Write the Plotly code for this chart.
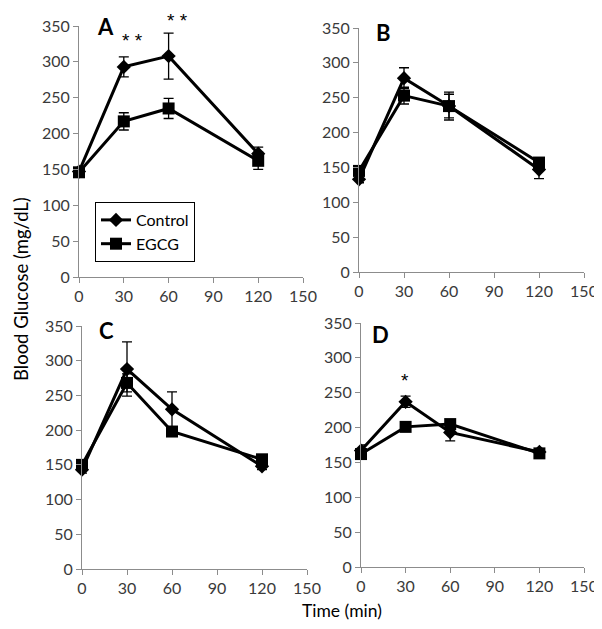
import plotly.graph_objects as go

time = [0, 30, 60, 120]
panels = ["A", "B", "C", "D"]

ctrl_A = [147, 293, 308, 172]
ctrl_A_err = [4, 14, 32, 9]
egcg_A = [146, 217, 235, 162]
egcg_A_err = [4, 12, 14, 12]

ctrl_B = [133, 278, 238, 147]
ctrl_B_err = [5, 15, 20, 13]
egcg_B = [145, 253, 238, 157]
egcg_B_err = [5, 12, 17, 6]

ctrl_C = [143, 288, 230, 148]
ctrl_C_err = [5, 39, 25, 5]
egcg_C = [150, 268, 198, 158]
egcg_C_err = [5, 13, 5, 5]

ctrl_D = [167, 237, 193, 165]
ctrl_D_err = [8, 8, 12, 4]
egcg_D = [162, 201, 205, 163]
egcg_D_err = [4, 4, 4, 4]

x_ticks = [0, 30, 60, 90, 120, 150]
y_ticks = [0, 50, 100, 150, 200, 250, 300, 350]

ctrl = [ctrl_A, ctrl_B, ctrl_C, ctrl_D]
ctrl_err = [ctrl_A_err, ctrl_B_err, ctrl_C_err, ctrl_D_err]
egcg = [egcg_A, egcg_B, egcg_C, egcg_D]
egcg_err = [egcg_A_err, egcg_B_err, egcg_C_err, egcg_D_err]

W, H = 602, 629
OFF = 8  # default page body margin
PW, PH = W - OFF, H - OFF


def px(x):
    return (x - OFF) / PW


def py(y):
    return 1 - (y - OFF) / PH


# pixel domains in the window
xdom = [(79, 303), (359, 584), (82, 307), (361, 584)]
ydom = [(26, 277), (28, 272), (326, 569), (323, 567)]
label_pos = [(18, 349), (16, 344), (16, 343), (13, 333)]

fig = go.Figure()
FONT = "Lato, Open Sans, sans-serif"
tick_font = dict(family=FONT, size=16, color="#3a3a3a")

for i in range(4):
    sfx = "" if i == 0 else str(i + 1)
    xa = "x" + sfx
    ya = "y" + sfx
    fig.add_trace(go.Scatter(
        x=time, y=egcg[i], xaxis=xa, yaxis=ya, name="EGCG",
        mode="lines+markers", cliponaxis=False,
        line=dict(color="black", width=3),
        marker=dict(symbol="square", size=12, color="black"),
        error_y=dict(type="data", array=egcg_err[i], color="black", thickness=1.3, width=5),
        showlegend=(i == 0), legendrank=2,
    ))
    fig.add_trace(go.Scatter(
        x=time, y=ctrl[i], xaxis=xa, yaxis=ya, name="Control",
        mode="lines+markers", cliponaxis=False,
        line=dict(color="black", width=3),
        marker=dict(symbol="diamond", size=11, color="black"),
        error_y=dict(type="data", array=ctrl_err[i], color="black", thickness=1.3, width=5),
        showlegend=(i == 0), legendrank=1,
    ))
    x0, x1 = xdom[i]
    y0, y1 = ydom[i]
    axx = dict(domain=[px(x0), px(x1)], range=[0, 150], tickvals=x_ticks,
               showgrid=False, zeroline=False, showline=True, linecolor="#8c8c8c",
               linewidth=1, ticks="outside", ticklen=5, tickcolor="#8c8c8c",
               tickfont=tick_font, anchor=ya, fixedrange=True, automargin=False)
    axy = dict(domain=[py(y1), py(y0)], range=[0, 350], tickvals=y_ticks,
               showgrid=False, zeroline=False, showline=True, linecolor="#8c8c8c",
               linewidth=1, ticks="outside", ticklen=5, tickcolor="#8c8c8c",
               tickfont=tick_font, anchor=xa, fixedrange=True, automargin=False)
    fig.layout["xaxis" + sfx] = axx
    fig.layout["yaxis" + sfx] = axy
    lx, ly = label_pos[i]
    fig.add_annotation(x=lx, y=ly, xref=xa, yref=ya, text="<b>" + panels[i] + "</b>",
                       showarrow=False, xanchor="center", yanchor="middle",
                       font=dict(family=FONT, size=22, color="black"))

star_font = dict(family="Liberation Sans, Arial, sans-serif", size=19, color="black")
fig.add_annotation(x=px(132), y=py(40), xref="paper", yref="paper", text="* *",
                   showarrow=False, font=star_font, xanchor="center", yanchor="middle")
fig.add_annotation(x=px(177), y=1, xref="paper", yref="paper", text="* *",
                   showarrow=False, font=star_font, xanchor="center", yanchor="top")
fig.add_annotation(x=px(405), y=py(380), xref="paper", yref="paper", text="*",
                   showarrow=False, font=star_font, xanchor="center", yanchor="middle")

fig.add_annotation(x=0, y=py(289), xref="paper", yref="paper",
                   text="Blood Glucose (mg/dL)", textangle=-90, showarrow=False,
                   xanchor="left", yanchor="middle",
                   font=dict(family=FONT, size=18.5, color="black"))
fig.add_annotation(x=px(342), y=py(610), xref="paper", yref="paper",
                   text="Time (min)", showarrow=False, xanchor="center", yanchor="middle",
                   font=dict(family=FONT, size=17.5, color="black"))

fig.update_layout(
    template="none",
    width=PW, height=PH,
    margin=dict(l=0, r=0, t=0, b=0, autoexpand=False),
    paper_bgcolor="white", plot_bgcolor="white",
    legend=dict(x=px(95), y=py(202), xanchor="left", yanchor="top",
                bordercolor="black", borderwidth=1, bgcolor="white",
                font=dict(family=FONT, size=16, color="black"),
                tracegroupgap=0, itemwidth=30),
)

fig.write_html("out.html")
